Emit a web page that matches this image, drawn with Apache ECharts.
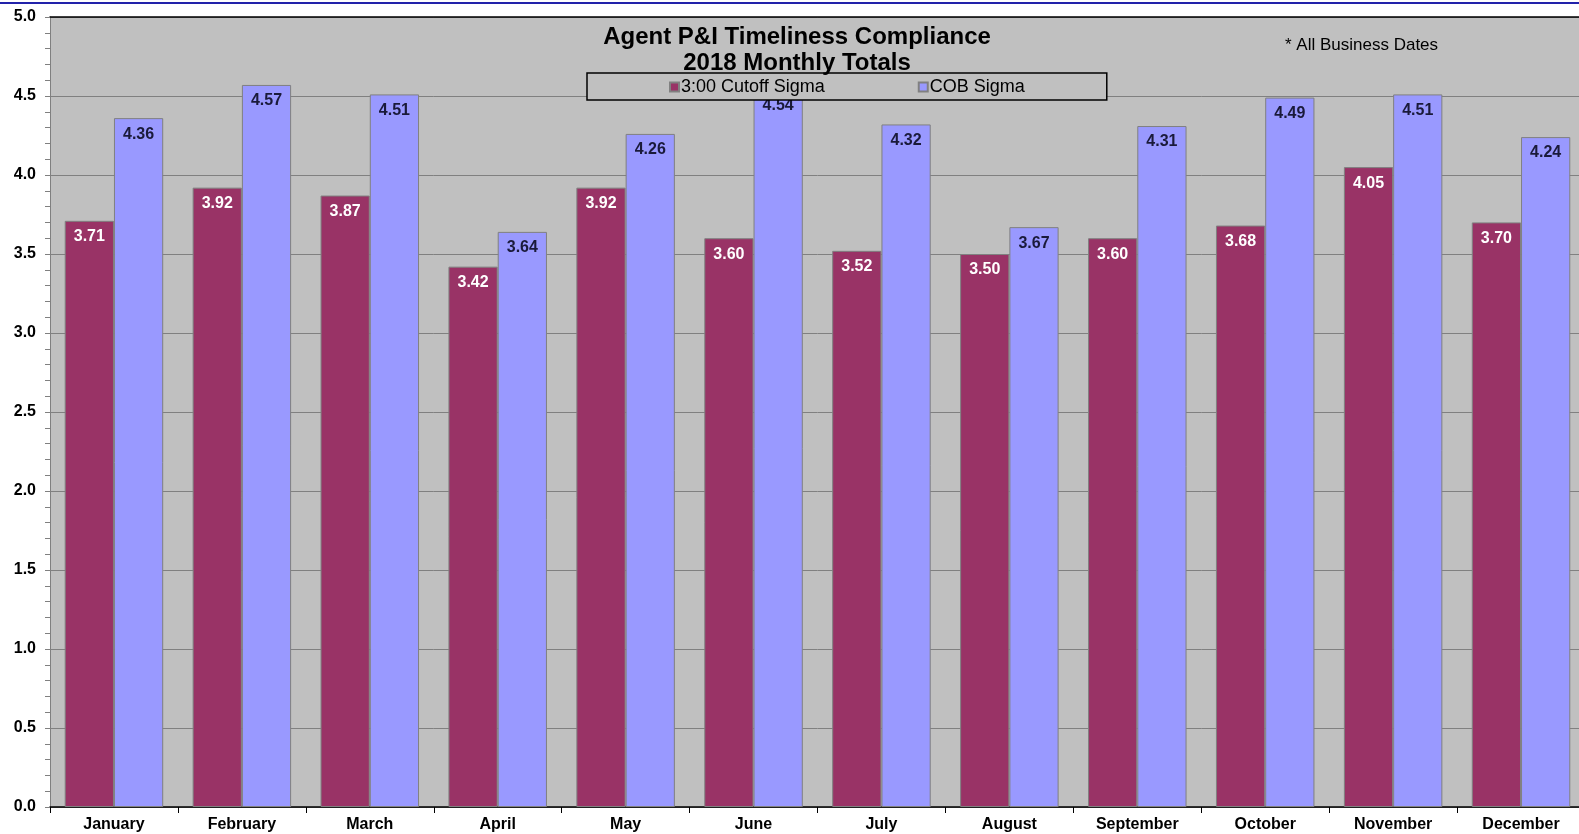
<!DOCTYPE html>
<html>
<head>
    <meta charset="utf-8">
    <title>Agent P&amp;I Timeliness Compliance</title>
    <script src="https://cdn.jsdelivr.net/npm/echarts@6/dist/echarts.min.js"></script>
    <style>
        html, body { margin: 0; padding: 0; background: #fff; overflow: hidden; }
    </style>
</head>
<body>
<!-- a bit wider than the window: the plot runs past the right edge -->
<div id="main" style="width: 1600px;height:834px;"></div>
<script type="text/javascript">
    // months on the x axis
    var months = ['January', 'February', 'March', 'April', 'May', 'June',
        'July', 'August', 'September', 'October', 'November', 'December'];
    // sigma values
    var cutoffSigma = [3.71, 3.92, 3.87, 3.42, 3.92, 3.60, 3.52, 3.50, 3.60, 3.68, 4.05, 3.70];
    var cobSigma = [4.36, 4.57, 4.51, 3.64, 4.26, 4.54, 4.32, 3.67, 4.31, 4.49, 4.51, 4.24];

    var font = 'Liberation Sans, Arial, sans-serif';
    var myChart = echarts.init(document.getElementById('main'));

    myChart.setOption({
        backgroundColor: '#fff',
        animation: false,
        textStyle: { fontFamily: font },
        title: [{
            text: 'Agent P&I Timeliness Compliance\n2018 Monthly Totals',
            left: 792,
            top: 19,
            textAlign: 'center',
            textStyle: { fontSize: 24, fontWeight: 'bold', color: '#000', lineHeight: 26, fontFamily: font }
        }, {
            text: '* All Business Dates',
            left: 1280,
            top: 32,
            textStyle: { fontSize: 17, fontWeight: 'normal', color: '#000', fontFamily: font }
        }],
        legend: {
            left: 587,
            top: 73,
            padding: [5, 82, 4, 82],
            itemWidth: 9,
            itemHeight: 9,
            itemGap: 93,
            borderColor: '#000',
            borderWidth: 1.5,
            backgroundColor: '#C0C0C0',
            textStyle: { fontSize: 18, color: '#000', padding: [0, 0, 0, -3] },
            data: [
                { name: '3:00 Cutoff Sigma', icon: 'rect' },
                { name: 'COB Sigma', icon: 'rect' }
            ]
        },
        grid: {
            left: 50,
            top: 17,
            width: 1535,
            height: 790,
            show: true,
            backgroundColor: '#C0C0C0',
            borderWidth: 0
        },
        xAxis: [{
            type: 'category',
            data: months,
            axisLine: { lineStyle: { color: '#000', width: 1.5 } },
            axisTick: { show: true, length: 6, lineStyle: { color: '#000' } },
            axisLabel: { fontSize: 16, fontWeight: 'bold', color: '#000', margin: 10 }
        }, {
            type: 'category',
            position: 'top',
            data: months,
            axisLine: { show: true, lineStyle: { color: '#000', width: 1.5 } },
            axisTick: { show: false },
            axisLabel: { show: false }
        }],
        yAxis: {
            type: 'value',
            min: 0,
            max: 5,
            interval: 0.5,
            axisLine: { show: true, lineStyle: { color: '#808080' } },
            axisTick: { show: true, length: 5, lineStyle: { color: '#808080' } },
            minorTick: { show: true, splitNumber: 5, length: 5, lineStyle: { color: '#808080' } },
            splitLine: { show: true, lineStyle: { color: '#808080', width: 1 } },
            axisLabel: {
                fontSize: 16, fontWeight: 'bold', color: '#000', margin: 14,
                formatter: function (v) { return v.toFixed(1); }
            }
        },
        series: [{
            name: '3:00 Cutoff Sigma',
            type: 'bar',
            data: cutoffSigma,
            barGap: '0%',
            barCategoryGap: '23%',
            itemStyle: { color: '#993366', borderColor: '#808080', borderWidth: 1 },
            label: {
                show: true, position: 'insideTop', distance: 8,
                fontSize: 16, fontWeight: 'bold', color: '#fff',
                formatter: function (p) { return p.value.toFixed(2); }
            }
        }, {
            name: 'COB Sigma',
            type: 'bar',
            data: cobSigma,
            itemStyle: { color: '#9999FF', borderColor: '#808080', borderWidth: 1 },
            label: {
                show: true, position: 'insideTop', distance: 8,
                fontSize: 16, fontWeight: 'bold', color: '#1a1a3a',
                formatter: function (p) { return p.value.toFixed(2); }
            }
        }],
        graphic: [{
            type: 'rect',
            left: 0,
            top: 2,
            shape: { width: 1600, height: 2 },
            style: { fill: '#2222aa' },
            silent: true
        }]
    });
</script>
</body>
</html>
